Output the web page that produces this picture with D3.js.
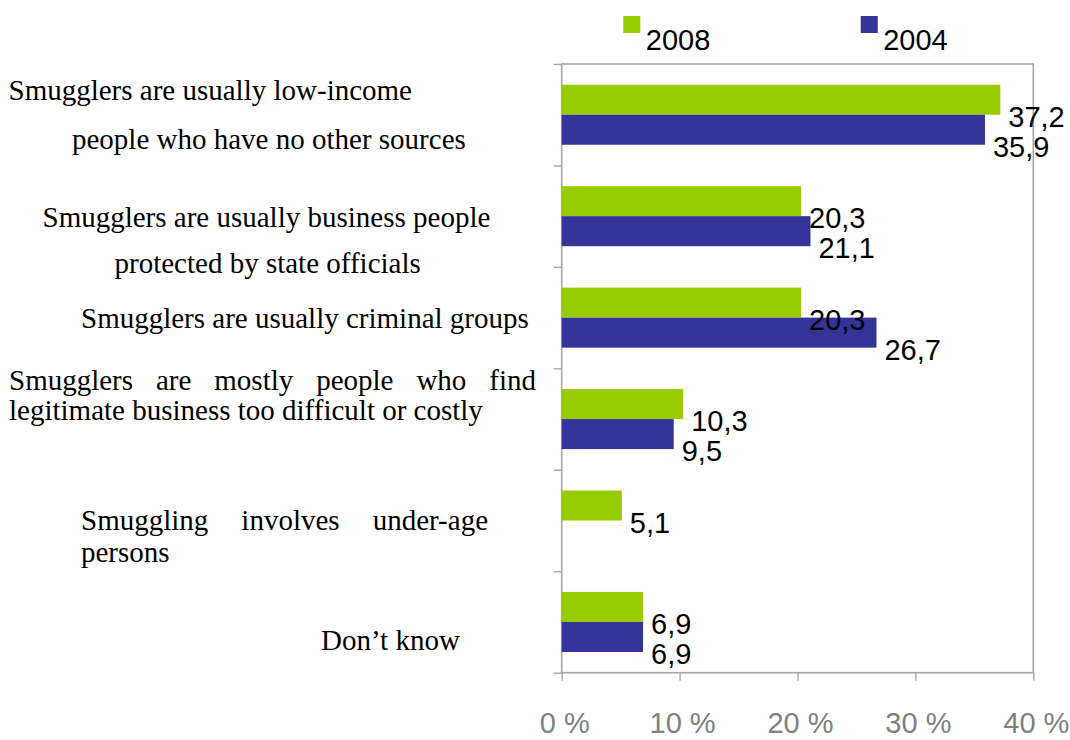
<!DOCTYPE html>
<html>
<head>
<meta charset="utf-8">
<script src="https://cdn.jsdelivr.net/npm/d3@7"></script>
<style>
  html, body { margin: 0; padding: 0; background: #ffffff; }
  svg { display: block; }
</style>
</head>
<body>
<svg id="chart" width="1070" height="740"></svg>
<script>
// ---- data ----
const categoryLines = [
  ["Smugglers are usually low-income", "people who have no other sources"],
  ["Smugglers are usually business people", "protected by state officials"],
  ["Smugglers are usually criminal groups"],
  ["Smugglers are mostly people who find", "legitimate business too difficult or costly"],
  ["Smuggling involves under-age", "persons"],
  ["Don’t know"]
];
const seriesNames = ["2008", "2004"];
const values2008 = [37.2, 20.3, 20.3, 10.3, 5.1, 6.9];
const values2004 = [35.9, 21.1, 26.7, 9.5, null, 6.9];
const xTickValues = [0, 10, 20, 30, 40];

// ---- presentation ----
const colors = { "2008": "#99cc00", "2004": "#333399" };
const frame = { left: 561.7, right: 1033.3, top: 64, bottom: 672.7 };
const axisGray = "#a6a6a6";
const sansFont = "'Liberation Sans', Arial, sans-serif";
const serifFont = "'Liberation Serif', 'Times New Roman', serif";

// Placement of the category text blocks, relative to each band centre
// (x of each line, baseline offset, optional justified width).
const labelLayout = [
  [{ x: 8.5, dy: -14.7 }, { x: 72, dy: 34.6 }],
  [{ x: 42.5, dy: 10.5 }, { x: 114.5, dy: 57.1 }],
  [{ x: 81, dy: 10.7 }],
  [{ x: 9, dy: -29.1, width: 527 }, { x: 9, dy: 0.9 }],
  [{ x: 81, dy: 9.5, width: 407 }, { x: 81, dy: 41.2 }],
  [{ x: 321, dy: 28 }]
];

const svg = d3.select("#chart");

const x = d3.scaleLinear().domain([0, 40]).range([frame.left, frame.right]);
const y = d3.scaleBand().domain(d3.range(categoryLines.length))
  .range([frame.top, frame.bottom]);
const ySub = d3.scaleBand().domain(seriesNames)
  .range([0, y.bandwidth()]).paddingOuter(0.69);
const yEdges = d3.scaleLinear().domain([0, categoryLines.length])
  .range([frame.top, frame.bottom]);

const rows = categoryLines.map((lines, i) => ({
  i,
  lines,
  values: { "2008": values2008[i], "2004": values2004[i] }
}));

// ---- plot frame ----
svg.append("rect")
  .attr("x", frame.left).attr("y", frame.top)
  .attr("width", frame.right - frame.left)
  .attr("height", frame.bottom - frame.top)
  .attr("fill", "none")
  .attr("stroke", axisGray)
  .attr("stroke-width", 1.6);

// ---- axes ----
const gLeft = svg.append("g")
  .attr("transform", `translate(${frame.left},0)`)
  .call(d3.axisLeft(yEdges).tickValues(d3.range(categoryLines.length + 1))
    .tickSize(8).tickFormat(""));
gLeft.select(".domain").remove();
gLeft.selectAll("line").attr("stroke", axisGray).attr("stroke-width", 1.4);

const gBottom = svg.append("g")
  .attr("transform", `translate(0,${frame.bottom})`)
  .call(d3.axisBottom(x).tickValues(xTickValues).tickSize(8)
    .tickFormat(d => d + " %"));
gBottom.select(".domain").remove();
gBottom.selectAll("line").attr("stroke", axisGray).attr("stroke-width", 1.4);
gBottom.selectAll("text")
  .attr("y", 60)
  .attr("dy", 0)
  .attr("dx", 2.5)
  .attr("fill", "#808080")
  .style("font-family", sansFont)
  .style("font-size", "29px");

// ---- bars ----
const groups = svg.append("g").selectAll("g")
  .data(rows).join("g")
  .attr("transform", d => `translate(0,${y(d.i)})`);

const barData = d => seriesNames
  .filter(s => d.values[s] != null)
  .map(s => ({ s, v: d.values[s] }));

groups.selectAll("rect")
  .data(barData).join("rect")
  .attr("x", x(0))
  .attr("y", d => ySub(d.s))
  .attr("width", d => x(d.v) - x(0))
  .attr("height", ySub.bandwidth())
  .attr("fill", d => colors[d.s]);

// ---- value labels ----
const fmt = v => d3.format(".1f")(v).replace(".", ",");
groups.selectAll("text.value")
  .data(barData).join("text")
  .attr("class", "value")
  .attr("x", d => x(d.v) + 8)
  .attr("y", d => ySub(d.s) + ySub.bandwidth() / 2 + 27)
  .attr("fill", "#000")
  .style("font-family", sansFont)
  .style("font-size", "29px")
  .text(d => fmt(d.v));

// ---- category labels ----
rows.forEach(row => {
  const cy = y(row.i) + y.bandwidth() / 2;
  row.lines.forEach((line, k) => {
    const pos = labelLayout[row.i][k];
    const t = svg.append("text")
      .attr("x", pos.x)
      .attr("y", cy + pos.dy)
      .attr("fill", "#000")
      .style("font-family", serifFont)
      .style("font-size", "29px")
      .text(line);
    if (pos.width) {
      const gaps = line.split(" ").length - 1;
      const natural = t.node().getComputedTextLength();
      if (gaps > 0 && pos.width > natural) {
        t.style("word-spacing", ((pos.width - natural) / gaps) + "px");
      }
    }
  });
});

// ---- legend ----
const legendPos = { "2008": 623.3, "2004": 860.7 };
const legend = svg.append("g").selectAll("g")
  .data(seriesNames).join("g")
  .attr("transform", s => `translate(${legendPos[s]},16)`);
legend.append("rect")
  .attr("width", 17).attr("height", 17)
  .attr("fill", s => colors[s]);
legend.append("text")
  .attr("x", 22.5).attr("y", 34)
  .attr("fill", "#000")
  .style("font-family", sansFont)
  .style("font-size", "29px")
  .text(s => s);
</script>
</body>
</html>
